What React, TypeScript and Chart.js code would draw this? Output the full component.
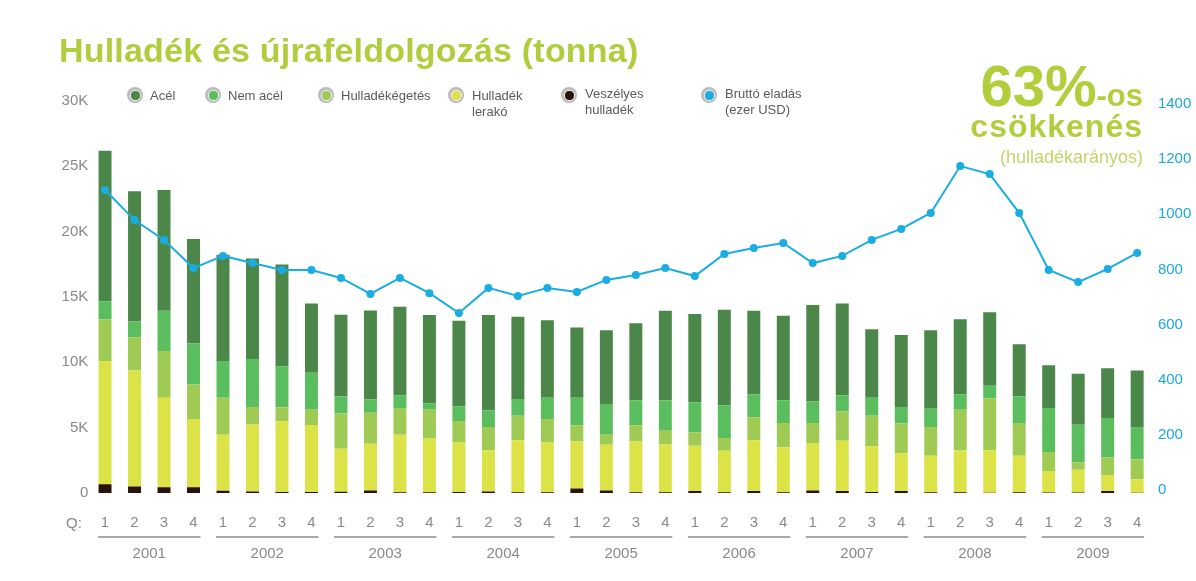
import React, { useEffect, useRef } from "react";
import { Chart, registerables } from "chart.js";

Chart.register(...registerables);

const quarters = ["1","2","3","4","1","2","3","4","1","2","3","4","1","2","3","4","1","2","3","4","1","2","3","4","1","2","3","4","1","2","3","4","1","2","3","4"];
const years = ["2001","2002","2003","2004","2005","2006","2007","2008","2009"];

// thousand tonnes
const veszelyes = [0.67,0.49,0.44,0.44, 0.18,0.12,0.08,0.08, 0.1,0.2,0.05,0.05, 0.08,0.12,0.05,0.05, 0.35,0.2,0.05,0.05, 0.15,0.05,0.15,0.05, 0.2,0.15,0.08,0.15, 0.05,0.05,0.02,0.05, 0.03,0.03,0.15,0.02];
const lerako = [9.43,8.89,6.84,5.23, 4.28,5.13,5.41,5.12, 3.28,3.56,4.41,4.13, 3.79,3.14,3.98,3.82, 3.6,3.49,3.9,3.69, 3.47,3.18,3.88,3.46, 3.62,3.85,3.48,2.9, 2.8,3.2,3.26,2.8, 1.66,1.74,1.23,1.03];
const egetes = [3.18,2.52,3.59,2.64, 2.82,1.33,1.07,1.18, 2.7,2.39,2.05,2.2, 1.64,1.79,1.89,1.8, 1.23,0.77,1.23,1.03, 1.02,0.98,1.76,1.85, 1.54,2.26,2.36,2.26, 2.2,3.12,3.97,2.51, 1.44,0.56,1.34,1.54];
const nemAcel = [1.39,1.23,3.08,3.13, 2.82,3.67,3.13,2.82, 1.33,1.02,0.98,0.47, 1.13,1.26,1.28,1.61, 2.1,2.36,1.92,2.33, 2.31,2.51,1.75,1.74, 1.67,1.23,1.36,1.28, 1.39,1.16,0.95,2.05, 3.38,2.9,3.02,2.46];
const acel = [11.53,9.97,9.23,8.0, 8.13,7.69,7.8,5.31, 6.23,6.8,6.77,6.77, 6.54,7.31,6.29,5.95, 5.39,5.64,5.9,6.85, 6.74,7.31,6.41,6.46, 7.35,7.02,5.26,5.51, 6.02,5.77,5.64,3.97, 3.26,3.9,3.8,4.33];
// thousand USD
const bruttoEladas = [1088,979,907,805, 849,823,798,798, 769,711,769,714, 642,733,704,733, 718,762,780,805, 776,856,878,896, 823,849,907,947, 1005,1175,1146,1005, 798,754,802,860];

const leftTicks = [0,5000,10000,15000,20000,25000,30000];
const rightTicks = [0,200,400,600,800,1000,1200,1400];

const COLORS = {
  acel: "#4A8748",
  nem: "#5BBE5E",
  eget: "#9FCB55",
  ler: "#DCE346",
  vesz: "#2B130D",
  line: "#1AADE3",
};

const legendItems = [
  { label: ["Acél"], color: COLORS.acel, x: 135 },
  { label: ["Nem acél"], color: COLORS.nem, x: 213 },
  { label: ["Hulladékégetés"], color: COLORS.eget, x: 326 },
  { label: ["Hulladék", "lerakó"], color: COLORS.ler, x: 456 },
  { label: ["Veszélyes", "hulladék"], color: COLORS.vesz, x: 569 },
  { label: ["Bruttó eladás", "(ezer USD)"], color: COLORS.line, x: 709 },
];

const FONT = "'Liberation Sans', Arial, Helvetica, sans-serif";

export default function App() {
  const ref = useRef<HTMLCanvasElement | null>(null);

  useEffect(() => {
    if (!ref.current) return;
    const k = (arr: number[]) => arr.map((v) => v * 1000);
    const yearLines = {
      id: "yearLines",
      afterDraw(chart: any) {
        const xs = chart.scales.x;
        const ctx = chart.ctx;
        ctx.save();
        ctx.strokeStyle = "#A9A9A9";
        ctx.lineWidth = 2;
        for (let i = 0; i < years.length; i++) {
          const a = xs.getPixelForValue(i * 4) - 7;
          const b = xs.getPixelForValue(i * 4 + 3) + 7;
          ctx.beginPath();
          ctx.moveTo(a, 537);
          ctx.lineTo(b, 537);
          ctx.stroke();
        }
        ctx.restore();
      },
    };
    const bar = (label: string, data: number[], color: string) => ({
      type: "bar" as const,
      label,
      data: k(data),
      backgroundColor: color,
      borderWidth: 0,
      yAxisID: "y",
      xAxisID: "x",
      stack: "s",
      order: 2,
      barPercentage: 0.88,
      categoryPercentage: 0.5,
    });
    const chart = new Chart(ref.current, {
      type: "bar",
      data: {
        labels: quarters,
        datasets: [
          bar("Veszélyes hulladék", veszelyes, COLORS.vesz),
          bar("Hulladék lerakó", lerako, COLORS.ler),
          bar("Hulladékégetés", egetes, COLORS.eget),
          bar("Nem acél", nemAcel, COLORS.nem),
          bar("Acél", acel, COLORS.acel),
          {
            type: "line" as const,
            label: "Bruttó eladás (ezer USD)",
            data: bruttoEladas,
            borderColor: COLORS.line,
            backgroundColor: COLORS.line,
            borderWidth: 2,
            pointRadius: 4,
            pointBorderWidth: 0,
            pointBackgroundColor: COLORS.line,
            tension: 0,
            yAxisID: "y2",
            xAxisID: "x",
            order: 0,
          } as any,
        ],
      },
      options: {
        responsive: false,
        animation: false,
        devicePixelRatio: 1,
        layout: { padding: { top: 101, left: 0, right: 0, bottom: 0 } },
        plugins: { legend: { display: false }, tooltip: { enabled: false }, title: { display: false } },
        scales: {
          x: {
            type: "category",
            position: "bottom",
            weight: 0,
            offset: true,
            grid: { display: false, drawTicks: false },
            border: { display: false },
            ticks: { color: "#8A8A8A", font: { family: FONT, size: 15 }, padding: 21, autoSkip: false, maxRotation: 0 },
            afterFit: (s: any) => { s.height = 44; },
          },
          x2: {
            type: "category",
            labels: years,
            position: "bottom",
            weight: 1,
            offset: true,
            grid: { display: false, drawTicks: false },
            border: { display: false },
            ticks: { color: "#8A8A8A", font: { family: FONT, size: 15 }, padding: 8, autoSkip: false, maxRotation: 0 },
            afterFit: (s: any) => { s.height = 44; },
          },
          y: {
            type: "linear",
            position: "left",
            stacked: true,
            min: 0,
            max: 30000,
            grid: { display: false, drawTicks: false },
            border: { display: false },
            afterBuildTicks: (s: any) => { s.ticks = leftTicks.map((v) => ({ value: v })); },
            ticks: {
              color: "#8A8A8A",
              font: { family: FONT, size: 15 },
              padding: 2,
              callback: (v: any) => (v === 0 ? "0" : v / 1000 + "K"),
            },
            afterFit: (s: any) => { s.width = 90.3; },
          },
          y2: {
            type: "linear",
            position: "right",
            min: -10.9,
            max: 1410.9,
            grid: { display: false, drawTicks: false },
            border: { display: false },
            afterBuildTicks: (s: any) => { s.ticks = rightTicks.map((v) => ({ value: v })); },
            ticks: {
              color: "#1AA8E0",
              font: { family: FONT, size: 15 },
              padding: 6,
              callback: (v: any) => String(v),
            },
            afterFit: (s: any) => { s.width = 44.1; },
          },
        },
      } as any,
      plugins: [yearLines],
    });
    return () => chart.destroy();
  }, []);

  return (
    <div style={{ position: "absolute", left: 0, top: 0, width: 1196, height: 581, background: "#fff", overflow: "hidden", fontFamily: FONT }}>
      <canvas ref={ref} width={1196} height={581} style={{ position: "absolute", left: 0, top: 0, width: 1196, height: 581 }} />
      <div style={{ position: "absolute", left: 59, top: 30, fontSize: 34, fontWeight: 700, color: "#B0CD3E", lineHeight: "40px", letterSpacing: 0.2, whiteSpace: "nowrap" }}>
        Hulladék és újrafeldolgozás (tonna)
      </div>
      {legendItems.map((it) => (
        <div key={it.label.join(" ")} style={{ position: "absolute", left: it.x - 8, top: 87, display: "flex", alignItems: "flex-start" }}>
          <div style={{ width: 16, height: 16, borderRadius: 8, background: "radial-gradient(circle, #d4d4d4 0%, #adadad 100%)", display: "flex", alignItems: "center", justifyContent: "center", flex: "none" }}>
            <div style={{ width: 9, height: 9, borderRadius: 5, background: it.color, border: "1px solid #f4f4f4" }} />
          </div>
          <div style={{ marginLeft: it.label.length > 1 ? 8 : 7, marginTop: it.label.length > 1 && it.x > 500 ? -1 : 1, fontSize: 13, lineHeight: "16px", color: "#5A5A5A", whiteSpace: "nowrap" }}>
            {it.label.map((l) => (<div key={l}>{l}</div>))}
          </div>
        </div>
      ))}
      <div style={{ position: "absolute", left: 66, top: 513, fontSize: 15, color: "#8A8A8A", lineHeight: "20px" }}>Q:</div>
      <div style={{ position: "absolute", right: 53, top: 57, textAlign: "right", color: "#B3CE3C", fontWeight: 700, whiteSpace: "nowrap" }}>
        <div style={{ lineHeight: "58px" }}>
          <span style={{ fontSize: 58 }}>63%</span>
          <span style={{ fontSize: 31 }}>-os</span>
        </div>
      </div>
      <div style={{ position: "absolute", right: 53, top: 110, textAlign: "right", color: "#B3CE3C", fontWeight: 700, fontSize: 32, lineHeight: "32px", letterSpacing: 1, whiteSpace: "nowrap" }}>
        csökkenés
      </div>
      <div style={{ position: "absolute", right: 53, top: 147, textAlign: "right", color: "#C0D66A", fontSize: 18, lineHeight: "20px", whiteSpace: "nowrap" }}>
        (hulladékarányos)
      </div>
    </div>
  );
}
